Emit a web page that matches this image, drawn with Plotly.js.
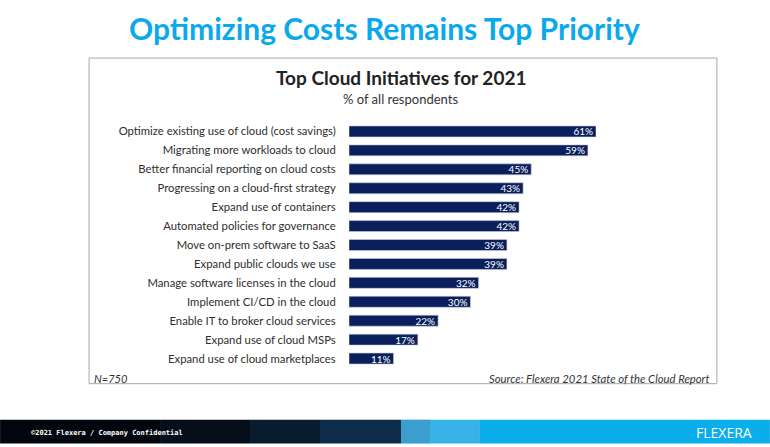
<!DOCTYPE html>
<html>
<head>
<meta charset="utf-8">
<script src="https://cdn.plot.ly/plotly-3.0.1.min.js"></script>
<style>html,body{margin:0;padding:0;background:#fff;}#chart{width:770px;height:447px;}</style>
</head>
<body>
<div id="chart"></div>
<script>
const categories = [
  "Optimize existing use of cloud (cost savings)",
  "Migrating more workloads to cloud",
  "Better financial reporting on cloud costs",
  "Progressing on a cloud-first strategy",
  "Expand use of containers",
  "Automated policies for governance",
  "Move on-prem software to SaaS",
  "Expand public clouds we use",
  "Manage software licenses in the cloud",
  "Implement CI/CD in the cloud",
  "Enable IT to broker cloud services",
  "Expand use of cloud MSPs",
  "Expand use of cloud marketplaces"
];
const values = [61, 59, 45, 43, 42, 42, 39, 39, 32, 30, 22, 17, 11];
const valueLabels = ["61%", "59%", "45%", "43%", "42%", "42%", "39%", "39%", "32%", "30%", "22%", "17%", "11%"];

const W = 770, H = 447;
const plotLeft = 349, plotW = 4.05 * 61, plotTop = 122, plotBottom = 368.3;
const plotH = plotBottom - plotTop;
const ml = plotLeft, mr = W - (plotLeft + plotW), mt = plotTop, mb = H - plotBottom;
// convert picture pixels to Plotly paper coordinates (relative to plot area)
function px(x){ return (x - plotLeft) / plotW; }
function py(y){ return (plotBottom - y) / plotH; }

const trace = {
  type: "bar",
  orientation: "h",
  x: values,
  y: categories,
  text: valueLabels,
  textposition: "inside",
  insidetextanchor: "end",
  textangle: 0,
  constraintext: "none",
  textfont: {family: "Lato, 'Open Sans', sans-serif", size: 10, color: "#ffffff"},
  marker: {color: "#0b1f5c", line: {color: "#c9cfe0", width: 0.6}},
  hoverinfo: "skip",
  cliponaxis: false
};

// footer band pieces (left dark image approximated by steps, right cyan)
const footerStops = [
  [0, 160, "#03070d"],
  [160, 250, "#050d19"],
  [250, 320, "#081b2f"],
  [320, 401, "#0c2c49"],
  [401, 430, "#3a9fcf"],
  [430, 480, "#38b2e6"],
  [480, 770, "#0aaeea"]
];
const footerShapes = footerStops.map(s => ({
  type: "rect", xref: "paper", yref: "paper", x0: px(s[0]), x1: px(s[1]), y0: py(420), y1: py(444),
  line: {width: 0}, fillcolor: s[2], layer: "below"
}));

const layout = {
  width: W, height: H,
  margin: {l: ml, r: mr, t: mt, b: mb, pad: 0},
  paper_bgcolor: "#ffffff",
  plot_bgcolor: "rgba(0,0,0,0)",
  showlegend: false,
  bargap: 0.42,
  font: {family: "Lato, 'Open Sans', sans-serif", color: "#333333"},
  xaxis: {range: [0, 61], visible: false, fixedrange: true},
  yaxis: {
    autorange: "reversed",
    type: "category",
    showgrid: false, zeroline: false, showline: false,
    ticks: "outside", ticklen: 10, tickcolor: "rgba(0,0,0,0)",
    tickfont: {family: "Lato, 'Open Sans', sans-serif", size: 11.3, color: "#2e2e2e"},
    fixedrange: true
  },
  shapes: [
    {type: "rect", xref: "paper", yref: "paper", x0: px(89), x1: px(717), y0: py(58), y1: py(384),
     line: {color: "#a8a8a8", width: 1}, fillcolor: "rgba(0,0,0,0)", layer: "below"}
  ].concat(footerShapes),
  annotations: [
    {text: "<b>Optimizing Costs Remains Top Priority</b>", xref: "paper", yref: "paper",
     x: px(385), y: py(28), xanchor: "center", yanchor: "middle", showarrow: false,
     font: {family: "Lato, 'Open Sans', sans-serif", size: 30, color: "#0aa9ec"}},
    {text: "<b>Top Cloud Initiatives for 2021</b>", xref: "paper", yref: "paper",
     x: px(401), y: py(77), xanchor: "center", yanchor: "middle", showarrow: false,
     font: {family: "Lato, 'Open Sans', sans-serif", size: 19, color: "#222222"}},
    {text: "% of all respondents", xref: "paper", yref: "paper",
     x: px(401), y: py(99), xanchor: "center", yanchor: "middle", showarrow: false,
     font: {family: "Lato, 'Open Sans', sans-serif", size: 13, color: "#333333"}},
    {text: "<i>N=750</i>", xref: "paper", yref: "paper",
     x: px(92), y: py(379), xanchor: "left", yanchor: "middle", showarrow: false,
     font: {family: "Lato, 'Open Sans', sans-serif", size: 11, color: "#333333"}},
    {text: "<i>Source: Flexera 2021 State of the Cloud Report</i>", xref: "paper", yref: "paper",
     x: px(711), y: py(379), xanchor: "right", yanchor: "middle", showarrow: false,
     font: {family: "Lato, 'Open Sans', sans-serif", size: 11.3, color: "#333333"}},
    {text: "<b>©2021 Flexera / Company Confidential</b>", xref: "paper", yref: "paper",
     x: px(29), y: py(433), xanchor: "left", yanchor: "middle", showarrow: false,
     font: {family: "'DejaVu Sans Mono', monospace", size: 7, color: "#ffffff"}},
    {text: "FLEXERA", xref: "paper", yref: "paper",
     x: px(754), y: py(433), xanchor: "right", yanchor: "middle", showarrow: false,
     font: {family: "'Open Sans', sans-serif", size: 14, color: "#ffffff"}}
  ]
};

Plotly.newPlot("chart", [trace], layout, {displayModeBar: false, staticPlot: true});
</script>
</body>
</html>
